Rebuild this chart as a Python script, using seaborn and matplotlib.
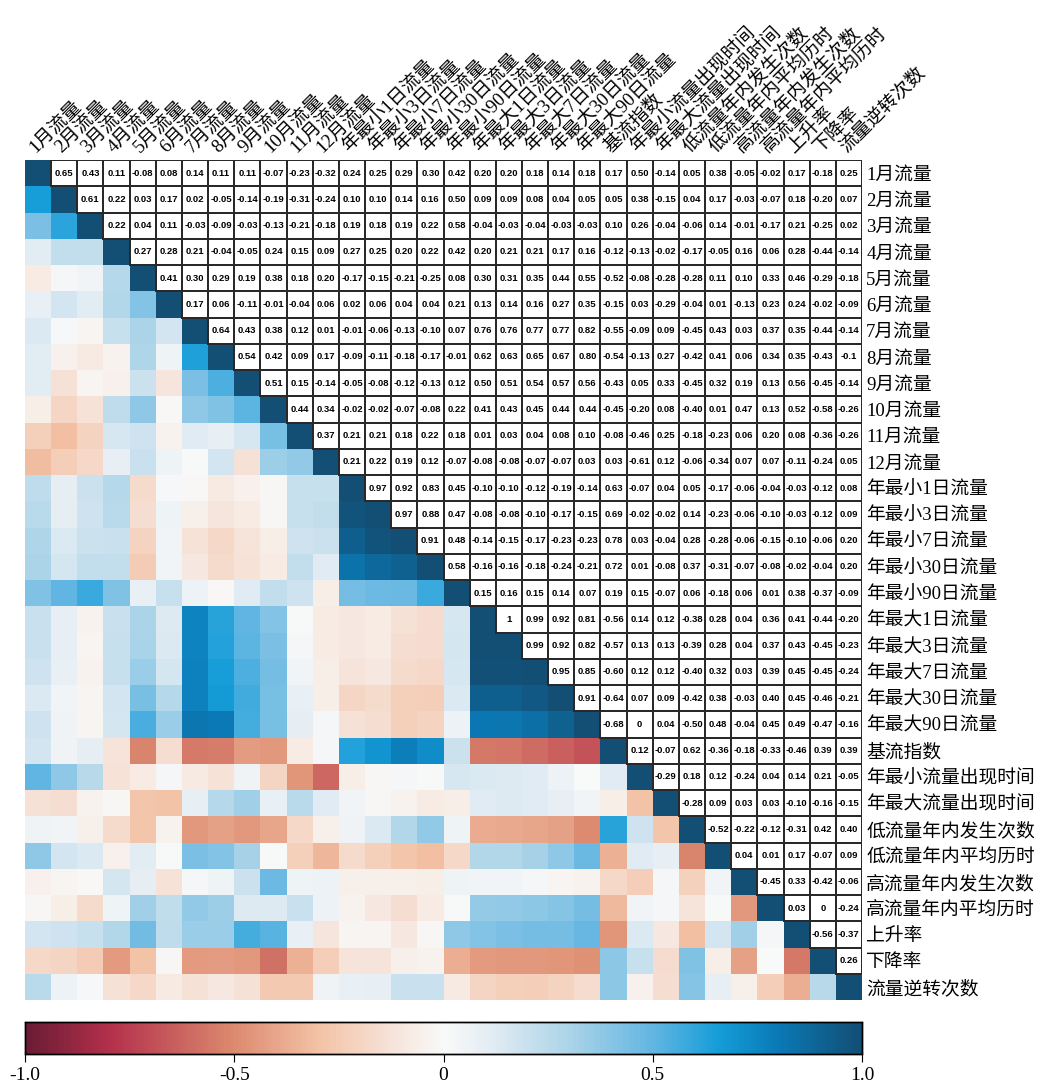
import numpy as np
import pandas as pd
import matplotlib
matplotlib.use("Agg")
import matplotlib.pyplot as plt
from matplotlib.colors import LinearSegmentedColormap, ListedColormap
import seaborn as sns

# %%
variables = [
    "1月流量", "2月流量", "3月流量", "4月流量", "5月流量", "6月流量",
    "7月流量", "8月流量", "9月流量", "10月流量", "11月流量", "12月流量",
    "年最小1日流量", "年最小3日流量", "年最小7日流量", "年最小30日流量",
    "年最小90日流量", "年最大1日流量", "年最大3日流量", "年最大7日流量",
    "年最大30日流量", "年最大90日流量", "基流指数", "年最小流量出现时间",
    "年最大流量出现时间", "低流量年内发生次数", "低流量年内平均历时",
    "高流量年内发生次数", "高流量年内平均历时", "上升率", "下降率", "流量逆转次数",
]

# upper triangle, row i holds columns i+1 .. end (text as printed in the cells)
upper_rows = [
    "0.65 0.43 0.11 -0.08 0.08 0.14 0.11 0.11 -0.07 -0.23 -0.32 0.24 0.25 0.29 0.30 0.42 0.20 0.20 0.18 0.14 0.18 0.17 0.50 -0.14 0.05 0.38 -0.05 -0.02 0.17 -0.18 0.25",
    "0.61 0.22 0.03 0.17 0.02 -0.05 -0.14 -0.19 -0.31 -0.24 0.10 0.10 0.14 0.16 0.50 0.09 0.09 0.08 0.04 0.05 0.05 0.38 -0.15 0.04 0.17 -0.03 -0.07 0.18 -0.20 0.07",
    "0.22 0.04 0.11 -0.03 -0.09 -0.03 -0.13 -0.21 -0.18 0.19 0.18 0.19 0.22 0.58 -0.04 -0.03 -0.04 -0.03 -0.03 0.10 0.26 -0.04 -0.06 0.14 -0.01 -0.17 0.21 -0.25 0.02",
    "0.27 0.28 0.21 -0.04 -0.05 0.24 0.15 0.09 0.27 0.25 0.20 0.22 0.42 0.20 0.21 0.21 0.17 0.16 -0.12 -0.13 -0.02 -0.17 -0.05 0.16 0.06 0.28 -0.44 -0.14",
    "0.41 0.30 0.29 0.19 0.38 0.18 0.20 -0.17 -0.15 -0.21 -0.25 0.08 0.30 0.31 0.35 0.44 0.55 -0.52 -0.08 -0.28 -0.28 0.11 0.10 0.33 0.46 -0.29 -0.18",
    "0.17 0.06 -0.11 -0.01 -0.04 0.06 0.02 0.06 0.04 0.04 0.21 0.13 0.14 0.16 0.27 0.35 -0.15 0.03 -0.29 -0.04 0.01 -0.13 0.23 0.24 -0.02 -0.09",
    "0.64 0.43 0.38 0.12 0.01 -0.01 -0.06 -0.13 -0.10 0.07 0.76 0.76 0.77 0.77 0.82 -0.55 -0.09 0.09 -0.45 0.43 0.03 0.37 0.35 -0.44 -0.14",
    "0.54 0.42 0.09 0.17 -0.09 -0.11 -0.18 -0.17 -0.01 0.62 0.63 0.65 0.67 0.80 -0.54 -0.13 0.27 -0.42 0.41 0.06 0.34 0.35 -0.43 -0.1",
    "0.51 0.15 -0.14 -0.05 -0.08 -0.12 -0.13 0.12 0.50 0.51 0.54 0.57 0.56 -0.43 0.05 0.33 -0.45 0.32 0.19 0.13 0.56 -0.45 -0.14",
    "0.44 0.34 -0.02 -0.02 -0.07 -0.08 0.22 0.41 0.43 0.45 0.44 0.44 -0.45 -0.20 0.08 -0.40 0.01 0.47 0.13 0.52 -0.58 -0.26",
    "0.37 0.21 0.21 0.18 0.22 0.18 0.01 0.03 0.04 0.08 0.10 -0.08 -0.46 0.25 -0.18 -0.23 0.06 0.20 0.08 -0.36 -0.26",
    "0.21 0.22 0.19 0.12 -0.07 -0.08 -0.08 -0.07 -0.07 0.03 0.03 -0.61 0.12 -0.06 -0.34 0.07 0.07 -0.11 -0.24 0.05",
    "0.97 0.92 0.83 0.45 -0.10 -0.10 -0.12 -0.19 -0.14 0.63 -0.07 0.04 0.05 -0.17 -0.06 -0.04 -0.03 -0.12 0.08",
    "0.97 0.88 0.47 -0.08 -0.08 -0.10 -0.17 -0.15 0.69 -0.02 -0.02 0.14 -0.23 -0.06 -0.10 -0.03 -0.12 0.09",
    "0.91 0.48 -0.14 -0.15 -0.17 -0.23 -0.23 0.78 0.03 -0.04 0.28 -0.28 -0.06 -0.15 -0.10 -0.06 0.20",
    "0.58 -0.16 -0.16 -0.18 -0.24 -0.21 0.72 0.01 -0.08 0.37 -0.31 -0.07 -0.08 -0.02 -0.04 0.20",
    "0.15 0.16 0.15 0.14 0.07 0.19 0.15 -0.07 0.06 -0.18 0.06 0.01 0.38 -0.37 -0.09",
    "1 0.99 0.92 0.81 -0.56 0.14 0.12 -0.38 0.28 0.04 0.36 0.41 -0.44 -0.20",
    "0.99 0.92 0.82 -0.57 0.13 0.13 -0.39 0.28 0.04 0.37 0.43 -0.45 -0.23",
    "0.95 0.85 -0.60 0.12 0.12 -0.40 0.32 0.03 0.39 0.45 -0.45 -0.24",
    "0.91 -0.64 0.07 0.09 -0.42 0.38 -0.03 0.40 0.45 -0.46 -0.21",
    "-0.68 0 0.04 -0.50 0.48 -0.04 0.45 0.49 -0.47 -0.16",
    "0.12 -0.07 0.62 -0.36 -0.18 -0.33 -0.46 0.39 0.39",
    "-0.29 0.18 0.12 -0.24 0.04 0.14 0.21 -0.05",
    "-0.28 0.09 0.03 0.03 -0.10 -0.16 -0.15",
    "-0.52 -0.22 -0.12 -0.31 0.42 0.40",
    "0.04 0.01 0.17 -0.07 0.09",
    "-0.45 0.33 -0.42 -0.06",
    "0.03 0 -0.24",
    "-0.56 -0.37",
    "0.26",
]

cbar_ticks = [-1.0, -0.5, 0.0, 0.5, 1.0]
cbar_ticklabels = ["-1.0", "-0.5", "0", "0.5", "1.0"]

# %%
n = len(variables)
corr = np.eye(n)
annot = np.full((n, n), "", dtype=object)
for i, row in enumerate(upper_rows):
    for k, tok in enumerate(row.split()):
        j = i + 1 + k
        corr[i, j] = corr[j, i] = float(tok)
        annot[i, j] = tok

corr_df = pd.DataFrame(corr, index=variables, columns=variables)

cmap = LinearSegmentedColormap.from_list(
    "corr",
    [
        (0.00, "#6a1b34"),
        (0.10, "#b3304b"),
        (0.25, "#dc8a6f"),
        (0.35, "#f3c2a6"),
        (0.45, "#f6e8e0"),
        (0.50, "#f9f9f9"),
        (0.55, "#e6eef4"),
        (0.65, "#acd4e8"),
        (0.75, "#63b6e2"),
        (0.83, "#159dd8"),
        (0.90, "#0a7ab6"),
        (1.00, "#134e74"),
    ],
)

W, H = 1047, 1085
fig = plt.figure(figsize=(W / 100, H / 100), dpi=100)
ax = fig.add_axes([25 / W, 1 - 1000 / H, 837 / W, 840 / H])
cax = fig.add_axes([25 / W, 1 - 1054 / H, 837 / W, 32 / H])

lower_mask = np.triu(np.ones((n, n), dtype=bool), k=1)
sns.heatmap(
    corr_df,
    mask=lower_mask,
    cmap=cmap,
    vmin=-1,
    vmax=1,
    ax=ax,
    cbar_ax=cax,
    cbar_kws={"orientation": "horizontal", "ticks": cbar_ticks},
)

sns.heatmap(
    corr_df,
    mask=~lower_mask,
    cmap=ListedColormap(["white"]),
    cbar=False,
    annot=annot,
    fmt="",
    annot_kws={"fontsize": 6.8, "fontweight": "bold", "family": "Liberation Sans", "color": "black"},
    linewidths=1.4,
    linecolor="#2a2a2a",
    ax=ax,
)

# keep cell borders only on the annotated (upper) cells
mesh = ax.collections[-1]
edge = np.zeros((n * n, 4))
edge[lower_mask.ravel()] = (0.16, 0.16, 0.16, 1.0)
mesh.set_edgecolor(edge)

label_font = ["Liberation Serif", "Noto Sans CJK SC"]
ax.xaxis.tick_top()
ax.yaxis.tick_right()
ax.set_xticks(np.arange(n) + 0.5)
ax.set_yticks(np.arange(n) + 0.5)
ax.set_xticklabels(variables, rotation=45, ha="left", va="bottom",
                   rotation_mode="anchor", fontsize=13.5, family=label_font)
ax.set_yticklabels(variables, rotation=0, fontsize=13.5, family=label_font)
ax.tick_params(length=0, pad=3)
ax.set_xlabel("")
ax.set_ylabel("")

cax.set_xticks(cbar_ticks)
cax.set_xticklabels(cbar_ticklabels, fontsize=14, family="Liberation Serif")
cax.tick_params(length=6, width=0.8, direction="out")
for s in cax.spines.values():
    s.set_visible(True)
    s.set_linewidth(1)
    s.set_color("black")

fig.savefig("out.png", dpi=100)
